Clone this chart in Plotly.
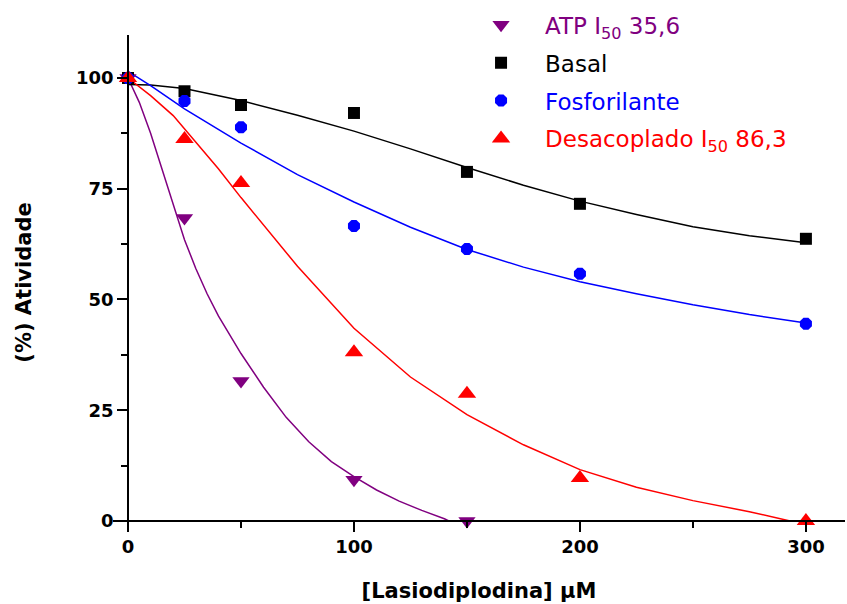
import plotly.graph_objects as go

# ---- measured data ----
conc_atp = [0, 25, 50, 100, 150]
atp = [100, 68.4, 31.6, 9.3, 0.0]

conc = [0, 25, 50, 100, 150, 200, 300]
basal = [100, 97.0, 93.9, 92.1, 78.8, 71.6, 63.7]
fosforilante = [100, 94.8, 88.9, 66.6, 61.4, 55.8, 44.5]
desacoplado = [100, 86.2, 76.3, 38.1, 28.7, 9.7, 0.0]

# ---- fitted curves ----
fit_x_atp = [0, 5, 10, 15, 20, 25, 30, 35, 40, 50, 60, 70, 80, 90, 100, 110, 120, 130, 140, 142]
fit_atp = [100, 94.5, 87.5, 79.5, 71.0, 63.5, 57.0, 51.3, 46.3, 37.8, 30.2, 23.4, 17.9, 13.4, 10.0, 7.0, 4.5, 2.4, 0.5, 0.0]

fit_x = [0, 10, 25, 50, 75, 100, 125, 150, 175, 200, 225, 250, 275, 300]
fit_basal = [98.5, 98.4, 97.6, 94.9, 91.6, 88.0, 84.0, 79.8, 75.8, 72.2, 69.2, 66.4, 64.4, 62.8]
fit_fosf = [101.5, 98.3, 93.0, 85.3, 78.2, 72.0, 66.3, 61.3, 57.3, 54.0, 51.3, 48.8, 46.6, 44.7]

fit_x_des = [0, 10, 20, 25, 30, 40, 50, 75, 100, 125, 150, 175, 200, 225, 250, 275, 293]
fit_des = [100, 96.0, 91.5, 88.5, 85.5, 79.5, 73.0, 57.5, 43.5, 32.5, 24.0, 17.2, 11.6, 7.6, 4.6, 2.1, 0.0]

x_ticks = [0, 100, 200, 300]
y_ticks = [0, 25, 50, 75, 100]

PURPLE = "#800080"
BLACK = "#000000"
BLUE = "#0000FF"
RED = "#FF0000"

fig = go.Figure()

# fitted lines
for fx, fy, col in [(fit_x_atp, fit_atp, PURPLE), (fit_x, fit_basal, BLACK),
                    (fit_x, fit_fosf, BLUE), (fit_x_des, fit_des, RED)]:
    fig.add_trace(go.Scatter(x=fx, y=fy, mode="lines", line=dict(color=col, width=1.5),
                             showlegend=False, hoverinfo="skip"))

# points
fig.add_trace(go.Scatter(x=conc_atp, y=atp, mode="markers", legendgroup="a",
                         name='<span style="color:#800080">ATP I<sub>50</sub> 35,6</span>',
                         marker=dict(symbol="triangle-down", size=15, color=PURPLE)))
fig.add_trace(go.Scatter(x=conc, y=basal, mode="markers", legendgroup="b",
                         name='<span style="color:#000000">Basal</span>',
                         marker=dict(symbol="square", size=12, color=BLACK)))
fig.add_trace(go.Scatter(x=conc, y=fosforilante, mode="markers", legendgroup="c",
                         name='<span style="color:#0000FF">Fosforilante</span>',
                         marker=dict(symbol="octagon", size=13, color=BLUE)))
fig.add_trace(go.Scatter(x=conc, y=desacoplado, mode="markers", legendgroup="d",
                         name='<span style="color:#FF0000">Desacoplado I<sub>50</sub> 86,3</span>',
                         marker=dict(symbol="triangle-up", size=16, color=RED)))

tickfont = dict(family="DejaVu Sans", size=18, color="black", weight="bold")

fig.update_layout(
    width=847, height=604,
    margin=dict(l=113, r=2, t=35, b=74),
    paper_bgcolor="white", plot_bgcolor="white",
    showlegend=True,
    legend=dict(x=0.470, y=1.064, xanchor="left", yanchor="top",
                font=dict(family="DejaVu Sans", size=23),
                bgcolor="rgba(0,0,0,0)", tracegroupgap=5, itemwidth=78),
    xaxis=dict(range=[-6.64, 317.3], tickvals=x_ticks, ticktext=[str(v) for v in x_ticks],
               anchor="free", position=0.0182,
               showline=True, linecolor="black", linewidth=1.5,
               ticks="outside", ticklen=10, tickwidth=1.5, tickcolor="black",
               minor=dict(tick0=0, dtick=50, ticks="outside", ticklen=6, tickwidth=1.5, tickcolor="black"),
               showgrid=False, zeroline=False, tickfont=tickfont,
               title=dict(text="[Lasiodiplodina] µM", standoff=26,
                          font=dict(family="DejaVu Sans", size=21, color="black", weight="bold"))),
    yaxis=dict(range=[-2.03, 109.7], tickvals=y_ticks, ticktext=[str(v) for v in y_ticks],
               anchor="free", position=0.0205,
               showline=True, linecolor="black", linewidth=1.5,
               ticks="outside", ticklen=10, tickwidth=1.5, tickcolor="black",
               minor=dict(tick0=0, dtick=12.5, ticks="outside", ticklen=6, tickwidth=1.5, tickcolor="black"),
               showgrid=False, zeroline=False, tickfont=tickfont,
               title=dict(text="(%) Atividade", standoff=38,
                          font=dict(family="DejaVu Sans", size=21, color="black", weight="bold"))),
)

fig.write_html("out.html", config={"displayModeBar": False},
               post_script="document.body.style.margin='0px';document.body.style.overflow='hidden';")
